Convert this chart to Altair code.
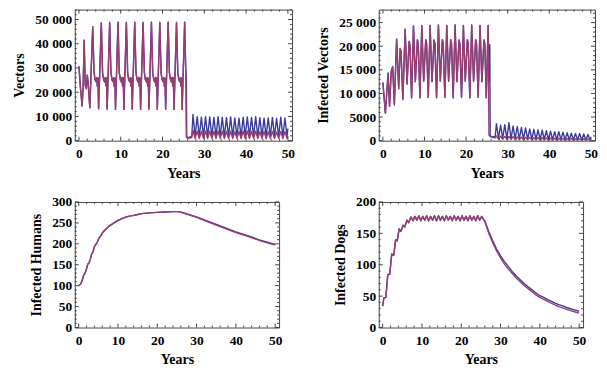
import altair as alt
import pandas as pd

FONT = "Liberation Serif"
BLUE = "#3d3d99"
PURPLE = "#993d71"
FRAME = "#444444"
LW = 1.4

X_DOMAIN = [-1, 51]
X_MAJOR = [0, 10, 20, 30, 40, 50]
X_MINOR = [v for v in range(0, 51, 2) if v % 10 != 0]

# ---------------- shared oscillation times after year ~27 ----------------
OSC_T = [27.3, 27.8, 28.3, 28.8, 29.3, 29.8, 30.3, 30.8, 31.3, 31.8, 32.3, 32.8,
         33.3, 33.8, 34.3, 34.8, 35.3, 35.8, 36.3, 36.8, 37.3, 37.8, 38.3, 38.8,
         39.3, 39.8, 40.3, 40.8, 41.3, 41.8, 42.3, 42.8, 43.3, 43.8, 44.3, 44.8,
         45.3, 45.8, 46.3, 46.8, 47.3, 47.8, 48.3, 48.8, 49.3, 49.8, 50.0]

# ---------------- Panel 1: Vectors ----------------
VEC_T_FIRST = [0, 0.35, 0.75, 1.0, 1.25, 1.5, 1.75, 2.0, 2.2, 2.6,
               3.3, 3.6, 3.85, 4.1, 4.25, 4.4, 4.55, 4.7,
               5.35, 5.65, 5.9, 6.15, 6.3, 6.45, 6.6, 6.75,
               7.35, 7.65, 7.9, 8.15, 8.3, 8.45, 8.6, 8.75,
               9.35, 9.65, 9.9, 10.15, 10.3, 10.45, 10.6, 10.75,
               11.35, 11.65, 11.9, 12.15, 12.3, 12.45, 12.6, 12.75,
               13.35, 13.65, 13.9, 14.15, 14.3, 14.45, 14.6, 14.75,
               15.35, 15.65, 15.9, 16.15, 16.3, 16.45, 16.6, 16.75,
               17.35, 17.65, 17.9, 18.15, 18.3, 18.45, 18.6, 18.75,
               19.35, 19.65, 19.9, 20.15, 20.3, 20.45, 20.6, 20.75,
               21.35, 21.65, 21.9, 22.15, 22.3, 22.45, 22.6, 22.75,
               23.35, 23.65, 23.9, 24.15, 24.3, 24.45, 24.6, 24.7]
VEC_FIRST = [30700, 22000, 14300, 21800, 41500, 23000, 21500, 27000, 23800, 13600,
             47000, 28500, 25200, 24300, 26000, 22500, 25800, 13200,
             48600, 28000, 25300, 24200, 26100, 22600, 25900, 13000,
             48800, 28200, 25200, 24300, 26000, 22400, 25800, 12900,
             48900, 28000, 25300, 24200, 26100, 22500, 25900, 12900,
             48800, 28100, 25200, 24300, 26000, 22500, 25800, 13000,
             48900, 28000, 25300, 24200, 26100, 22400, 25900, 12900,
             48800, 28200, 25200, 24300, 26000, 22500, 25800, 13000,
             48900, 28000, 25300, 24200, 26100, 22500, 25900, 12900,
             48800, 28100, 25200, 24300, 26000, 22400, 25800, 13000,
             48900, 28000, 25300, 24200, 26100, 22500, 25900, 12900,
             48800, 28200, 25200, 24300, 26000, 22500, 25800, 12900]
VEC_T_END = [25.3, 25.55, 25.7, 25.8, 26.3, 27.0]
VEC_END_BLUE = [48900, 30000, 25500, 1500, 1300, 1900]
VEC_END_PURPLE = [48900, 30000, 1500, 1300, 1000, 1300]
VEC_OSC_BLUE = [10800, 1800, 9900, 1600, 9700, 1700, 9900, 1600, 9800, 1700, 9600, 1600,
                9900, 1700, 9700, 1600, 9500, 1700, 9800, 1600, 9400, 1700, 9300, 1600,
                9700, 1700, 9800, 1600, 9600, 1700, 9900, 1600, 9500, 1700, 9300, 1600,
                9400, 1700, 9600, 1600, 9200, 1700, 9700, 1600, 9400, 1700, 5000]
VEC_OSC_PURPLE = [4200, 1000, 3900, 900, 3800, 950, 4000, 900, 3900, 950, 3800, 900,
                  4000, 950, 3900, 900, 3800, 950, 3900, 900, 3700, 950, 3800, 900,
                  3900, 950, 4000, 900, 3800, 950, 3900, 900, 3700, 950, 3800, 900,
                  3700, 950, 3800, 900, 3600, 950, 3800, 900, 3700, 950, 2000]

# ---------------- Panel 2: Infected Vectors ----------------
INF_T_FIRST = [0, 0.6, 1.25, 1.6, 2.0, 2.35, 2.75,
               3.3, 3.8, 4.15, 4.35, 4.8,
               5.35, 5.8, 6.3, 6.5, 6.9,
               7.35, 7.8, 8.3, 8.5, 8.9,
               9.35, 9.8, 10.3, 10.5, 10.9,
               11.35, 11.8, 12.3, 12.5, 12.9,
               13.35, 13.8, 14.3, 14.5, 14.9,
               15.35, 15.8, 16.3, 16.5, 16.9,
               17.35, 17.8, 18.3, 18.5, 18.9,
               19.35, 19.8, 20.3, 20.5, 20.9,
               21.35, 21.8, 22.3, 22.5, 22.9,
               23.35, 23.8, 24.3, 24.5, 24.85]
INF_FIRST = [12300, 5800, 14300, 7300, 14600, 15700, 7600,
             21500, 11000, 19500, 18900, 8700,
             23600, 12000, 21000, 20300, 9100,
             24300, 12500, 21400, 20500, 9100,
             24400, 12600, 21400, 20600, 9200,
             24400, 12500, 21300, 20600, 9100,
             24500, 12600, 21400, 20500, 9200,
             24400, 12600, 21400, 20600, 9100,
             24500, 12500, 21300, 20500, 9200,
             24400, 12600, 21400, 20600, 9100,
             24500, 12600, 21400, 20500, 9200,
             24400, 12500, 21300, 20600, 9100]
INF_T_END = [25.3, 25.5, 25.7, 25.8, 26.3, 27.0]
INF_END_BLUE = [24400, 12500, 20300, 1000, 800, 900]
INF_END_PURPLE = [24400, 1200, 1000, 900, 700, 600]
INF_OSC_BLUE = [3600, 500, 3300, 450, 3400, 450, 3800, 400, 3100, 400, 3000, 350,
                2800, 350, 2700, 300, 2500, 300, 2400, 300, 2300, 250, 2200, 250,
                2100, 250, 2000, 200, 1900, 200, 1900, 200, 1800, 200, 1700, 150,
                1600, 150, 1500, 150, 1500, 150, 1400, 150, 1300, 150, 700]
INF_OSC_PURPLE = [1000, 300, 950, 300, 900, 250, 900, 250, 850, 250, 800, 200,
                  750, 200, 700, 200, 700, 150, 650, 150, 600, 150, 600, 150,
                  550, 100, 550, 100, 500, 100, 500, 100, 450, 100, 450, 100,
                  450, 100, 400, 100, 400, 100, 400, 100, 350, 100, 250]

# ---------------- Panel 3: Infected Humans ----------------
HUM_T = [0, 0.5, 1.0, 1.3, 1.6, 2.0, 2.3, 2.6, 3.0, 3.3, 3.6, 4.0, 4.4, 4.7, 5.0, 5.4, 5.7,
         6.0, 6.5, 7.0, 7.5, 8.0, 9, 10, 11, 12, 13, 14, 15, 16, 18, 20, 22, 24, 25.5,
         27, 30, 33, 36, 40, 43, 46, 50]
HUM_PURPLE = [100, 104, 116, 126, 129, 141, 151, 154, 164, 176, 180, 193, 199, 203, 210, 217, 220,
              226, 231, 236, 240, 244, 250, 256, 260, 264, 266, 268, 270, 272, 274, 275, 276, 277, 277,
              272, 263, 252, 241, 227, 218, 208, 197]
HUM_BLUE = [100, 104, 116, 126, 129, 141, 151, 154, 164, 176, 180, 193, 199, 203, 210, 217, 220,
            226, 231, 236, 240, 244, 250, 256, 260, 264, 266, 268, 270, 272, 274, 275, 276, 277, 277,
            273, 264.5, 253.5, 242.5, 228.5, 219.5, 209.5, 198.5]

# ---------------- Panel 4: Infected Dogs ----------------
DOG_T_FIRST = [0, 0.3, 0.8, 1.3, 1.8, 2.3, 2.8, 3.3, 3.7, 4.2, 4.6, 5.2, 5.6, 6.2, 6.6, 7.2, 7.7,
               8.2, 8.7, 9.2, 9.7, 10.2, 10.7, 11.2, 11.7, 12.2, 12.7, 13.2, 13.7, 14.2, 14.7,
               15.2, 15.7, 16.2, 16.7, 17.2, 17.7, 18.2, 18.7, 19.2, 19.7, 20.2, 20.7, 21.2, 21.7,
               22.2, 22.7, 23.2, 23.7, 24.2, 24.7, 25.2, 25.7]
DOG_FIRST = [34, 47, 48, 84, 85, 117, 115, 140, 138, 157, 153, 163, 160, 171, 167, 176, 170,
             177, 171, 178, 170, 177, 171, 178, 170, 177, 171, 178, 170, 178, 171, 177, 170,
             178, 171, 177, 170, 178, 171, 177, 170, 178, 171, 177, 170, 178, 171, 177, 170,
             178, 171, 177, 172]
DOG_T_DECAY = [26, 27, 28, 29, 30, 31, 32, 33, 34, 35, 36, 37, 38, 39, 40, 41, 42, 43, 44, 45,
               46, 47, 48, 49, 50]
DOG_DECAY_BLUE = [170, 153, 138, 125, 114, 105, 97, 89, 82, 76, 70, 65, 60, 55, 51, 48, 44.5,
                  41.5, 38.5, 36, 34, 31.5, 29.5, 27.7, 26]
DOG_DECAY_PURPLE = [169, 150, 135, 122, 111, 101, 93, 86, 79, 73, 67, 62, 57, 52, 48, 45, 41.5,
                    38.5, 35.5, 33, 31, 28.5, 26.5, 24.7, 23]

SPACED = "datum.value >= 10000 ? replace(format(datum.value, ','), ',', ' ') : format(datum.value, 'd')"


def tick_layers(xs, ys, xaxis, yaxis, width, height, y_major, y_minor):
    major_len, minor_len = 4, 2
    layers = []
    for vals, ln in ((X_MAJOR, major_len), (X_MINOR, minor_len)):
        d = pd.DataFrame({"v": vals})
        layers.append(alt.Chart(d).mark_rule(color=FRAME, strokeWidth=1).encode(
            x=alt.X("v:Q", scale=xs, axis=xaxis), y=alt.value(height), y2=alt.value(height - ln)))
        layers.append(alt.Chart(d).mark_rule(color=FRAME, strokeWidth=1).encode(
            x=alt.X("v:Q", scale=xs, axis=xaxis), y=alt.value(0), y2=alt.value(ln)))
    for vals, ln in ((y_major, major_len), (y_minor, minor_len)):
        d = pd.DataFrame({"v": vals})
        layers.append(alt.Chart(d).mark_rule(color=FRAME, strokeWidth=1).encode(
            y=alt.Y("v:Q", scale=ys, axis=yaxis), x=alt.value(0), x2=alt.value(ln)))
        layers.append(alt.Chart(d).mark_rule(color=FRAME, strokeWidth=1).encode(
            y=alt.Y("v:Q", scale=ys, axis=yaxis), x=alt.value(width), x2=alt.value(width - ln)))
    return layers


def panel(t, blue, purple, width, height, y_domain, y_major, y_minor, y_title, label_expr=None):
    assert len(t) == len(blue) == len(purple), (y_title, len(t), len(blue), len(purple))
    df = pd.DataFrame({"t": t, "b": blue, "p": purple})
    xs = alt.Scale(domain=X_DOMAIN, nice=False, zero=False)
    ys = alt.Scale(domain=y_domain, nice=False, zero=False)
    yaxis_kw = dict(values=y_major, title=y_title)
    if label_expr:
        yaxis_kw["labelExpr"] = label_expr
    xaxis = alt.Axis(values=X_MAJOR, title="Years")
    yaxis = alt.Axis(**yaxis_kw)
    blue_line = alt.Chart(df).mark_line(color=BLUE, strokeWidth=LW, strokeJoin="round").encode(
        x=alt.X("t:Q", scale=xs, axis=xaxis),
        y=alt.Y("b:Q", scale=ys, axis=yaxis))
    purple_line = alt.Chart(df).mark_line(color=PURPLE, strokeWidth=LW, strokeJoin="round").encode(
        x=alt.X("t:Q", scale=xs, axis=xaxis),
        y=alt.Y("p:Q", scale=ys, axis=yaxis))
    return alt.layer(blue_line, purple_line,
                     *tick_layers(xs, ys, xaxis, yaxis, width, height, y_major, y_minor)).properties(
        width=width, height=height)


p1 = panel(VEC_T_FIRST + VEC_T_END + OSC_T,
           VEC_FIRST + VEC_END_BLUE + VEC_OSC_BLUE,
           VEC_FIRST + VEC_END_PURPLE + VEC_OSC_PURPLE,
           218, 131.5, [0, 54100],
           [0, 10000, 20000, 30000, 40000, 50000],
           [v for v in range(0, 54001, 2000) if v % 10000 != 0],
           "Vectors", SPACED)
p2 = panel(INF_T_FIRST + INF_T_END + OSC_T,
           INF_FIRST + INF_END_BLUE + INF_OSC_BLUE,
           INF_FIRST + INF_END_PURPLE + INF_OSC_PURPLE,
           217, 131.5, [0, 27750],
           [0, 5000, 10000, 15000, 20000, 25000],
           [v for v in range(0, 27001, 1000) if v % 5000 != 0],
           "Infected Vectors", SPACED)
p3 = panel(HUM_T, HUM_BLUE, HUM_PURPLE, 205, 126, [0, 300],
           [0, 50, 100, 150, 200, 250, 300],
           [v for v in range(0, 300, 10) if v % 50 != 0],
           "Infected Humans")
p4 = panel(DOG_T_FIRST + DOG_T_DECAY, DOG_FIRST + DOG_DECAY_BLUE, DOG_FIRST + DOG_DECAY_PURPLE,
           205, 126, [0, 200],
           [0, 50, 100, 150, 200],
           [v for v in range(0, 200, 10) if v % 50 != 0],
           "Infected Dogs")

chart = alt.concat(p1, p2, p3, p4, columns=2, spacing={"row": 61, "column": 87},
                   bounds="flush").properties(
    padding={"left": 4, "top": 0, "right": 0, "bottom": 0}
).configure_view(
    stroke=FRAME, strokeWidth=1
).configure_axis(
    domain=False, ticks=False, grid=False, labelFlush=False,
    labelFont=FONT, labelFontSize=13.5, labelFontWeight="bold", labelColor="black",
    titleFont=FONT, titleFontSize=14, titleFontWeight="bold", titleColor="black"
).configure_axisX(
    labelPadding=6, titlePadding=6
).configure_axisY(
    labelPadding=3, titlePadding=8
)

chart.save("out.html", embed_options={"renderer": "svg", "actions": False})
